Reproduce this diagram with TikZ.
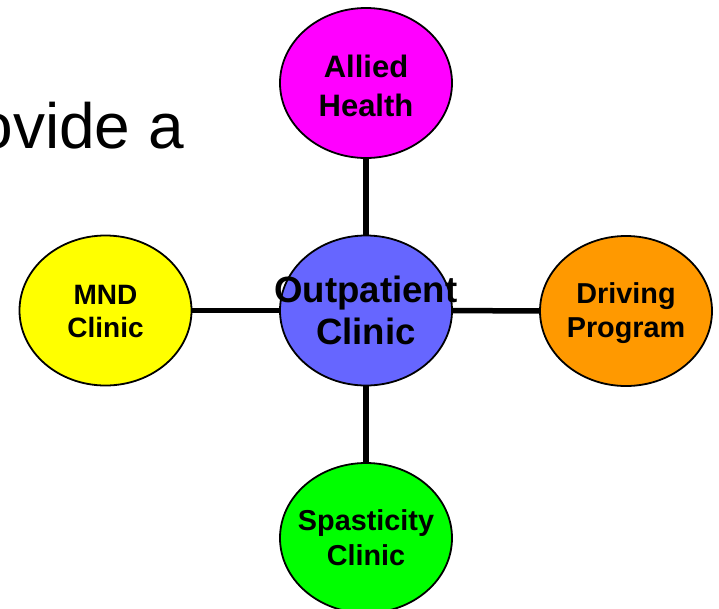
\documentclass[tikz,border=0pt]{standalone}
\usepackage{fontspec}
\setmainfont{Liberation Sans}
\usetikzlibrary{shapes.geometric}
\pgfdeclarelayer{bg}
\pgfsetlayers{bg,main}
\definecolor{cmag}{HTML}{FF00FF}
\definecolor{cyel}{HTML}{FFFF00}
\definecolor{cblu}{HTML}{6666FF}
\definecolor{cora}{HTML}{FF9900}
\definecolor{cgrn}{HTML}{00FF00}
\tikzset{
  bubble/.style={ellipse, draw=black, line width=1.8pt, inner sep=0pt,
    minimum width=172pt, minimum height=150pt},
  lab/.style={font=\fontsize{28.8}{35}\selectfont\bfseries, align=center, inner sep=0pt},
  link/.style={line width=5.5pt, draw=black}
}
\begin{document}
\begin{tikzpicture}[x=1pt,y=-1pt]
\useasboundingbox (0,0) rectangle (719,608);
\node[anchor=base east, inner sep=0pt, font=\fontsize{64}{70}\selectfont] (head) at (184,148) {ovide a};
\node[bubble, fill=cblu, label={[lab, font=\fontsize{36.6}{42}\selectfont\bfseries]center:Outpatient\\Clinic}] (c) at (366,310.5) {};
\node[bubble, fill=cmag, label={[lab, font=\fontsize{31}{39}\selectfont\bfseries, yshift=-2.5pt]center:Allied\\Health}] (t) at (366,83) {};
\node[bubble, fill=cyel, label={[lab, font=\fontsize{28}{33}\selectfont\bfseries, yshift=-1pt]center:MND\\Clinic}] (l) at (105.5,310.5) {};
\node[bubble, fill=cora, label={[lab, font=\fontsize{28.8}{34}\selectfont\bfseries, yshift=-2pt]center:Driving\\Program}] (r) at (626,311) {};
\node[bubble, fill=cgrn, label={[lab]center:Spasticity\\Clinic}] (b) at (366,538) {};
\begin{pgfonlayer}{bg}
\draw[link] (c) -- (t);
\draw[link] (c) -- (b);
\draw[link] (c) -- (l);
\draw[link] (c) -- (r);
\end{pgfonlayer}
\end{tikzpicture}
\end{document}
